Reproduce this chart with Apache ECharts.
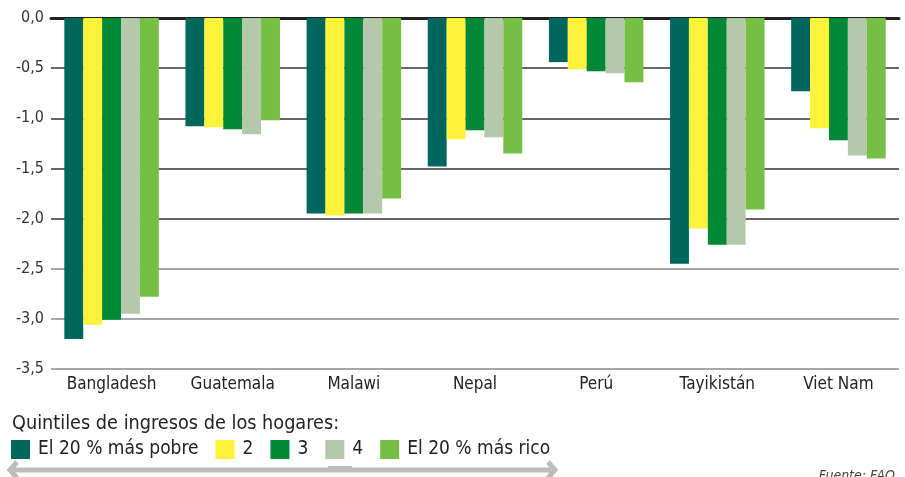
<!DOCTYPE html>
<html><head><meta charset="utf-8">
<script src="https://cdn.jsdelivr.net/npm/echarts@6/dist/echarts.min.js"></script>
<style>html,body{margin:0;padding:0;background:#fff}#c{width:905px;height:477px}</style>
</head><body><div id="c"></div>
<script>
const categories = ['Bangladesh','Guatemala','Malawi','Nepal','Perú','Tayikistán','Viet Nam'];
const seriesNames = ['El 20 % más pobre','2','3','4','El 20 % más rico'];
const q1 = [-3.20,-1.08,-1.95,-1.48,-0.44,-2.45,-0.73];
const q2 = [-3.06,-1.09,-1.97,-1.21,-0.51,-2.10,-1.10];
const q3 = [-3.01,-1.11,-1.95,-1.12,-0.53,-2.26,-1.22];
const q4 = [-2.95,-1.16,-1.95,-1.19,-0.55,-2.26,-1.37];
const q5 = [-2.78,-1.02,-1.80,-1.35,-0.64,-1.91,-1.40];
const yTicks = ['-3,5','-3,0','-2,5','-2,0','-1,5','-1,0','-0,5','0,0'];
const colors = ['#00665e','#fff23a','#008837','#b3c9a9','#74bf44'];
const FONT = '"DejaVu Sans Condensed","Liberation Sans Narrow",sans-serif';
const seriesData = [q1,q2,q3,q4,q5];

const chart = echarts.init(document.getElementById('c'), null, {renderer:'canvas'});
chart.setOption({
  animation:false,
  color: colors,
  textStyle:{fontFamily:FONT},
  title:{text:'Quintiles de ingresos de los hogares:', left:7, top:409,
    textStyle:{fontFamily:FONT, fontSize:19.7, fontWeight:'normal', color:'#222'}},
  legend:{left:11, top:440, padding:0, itemWidth:19, itemHeight:19, itemGap:17,
    icon:'rect', data: seriesNames,
    textStyle:{fontFamily:FONT, fontSize:19, color:'#222', padding:[0,0,0,3]}},
  grid:{left:51, right:6, top:18, bottom:108, containLabel:false},
  xAxis:[{type:'category', data:categories, position:'bottom',
    axisLine:{show:false, onZero:false}, axisTick:{show:false},
    axisLabel:{fontFamily:FONT, fontSize:17, color:'#222', margin:7}},
    {type:'category', data:categories, position:'top',
    axisLine:{show:true, lineStyle:{color:'#222', width:3}}, axisTick:{show:false}, axisLabel:{show:false}}],
  yAxis:{type:'value', min:-3.5, max:0, interval:0.5,
    axisLine:{show:false}, axisTick:{show:false},
    axisLabel:{fontFamily:FONT, fontSize:16, color:'#333', margin:7,
      formatter:(v)=>{const i=Math.round((v+3.5)/0.5); return yTicks[i];}},
    splitLine:{show:true, lineStyle:{width:1.5,
      color:['#8a8a8a','#8a8a8a','#8a8a8a','#333','#333','#333','#333','#333']}}},
  series: seriesData.map((d,i)=>({name:seriesNames[i], type:'bar', data:d,
    barGap:'0%', barCategoryGap:'22%', xAxisIndex:0})),
  graphic:[
    {type:'line', shape:{x1:14,y1:470,x2:551,y2:470}, style:{stroke:'#bcbcbc', lineWidth:5}},
    {type:'polyline', shape:{points:[[17,462],[10,470],[17,478]]}, style:{stroke:'#bcbcbc', lineWidth:5, fill:null}},
    {type:'polyline', shape:{points:[[548,462],[555,470],[548,478]]}, style:{stroke:'#bcbcbc', lineWidth:5, fill:null}},
    {type:'rect', shape:{x:328,y:466,width:24,height:6}, style:{fill:'#bcbcbc'}},
    {type:'text', right:10, top:469, style:{text:'Fuente: FAO', font:'italic 14px '+FONT, fill:'#444'}}
  ]
});
</script></body></html>
